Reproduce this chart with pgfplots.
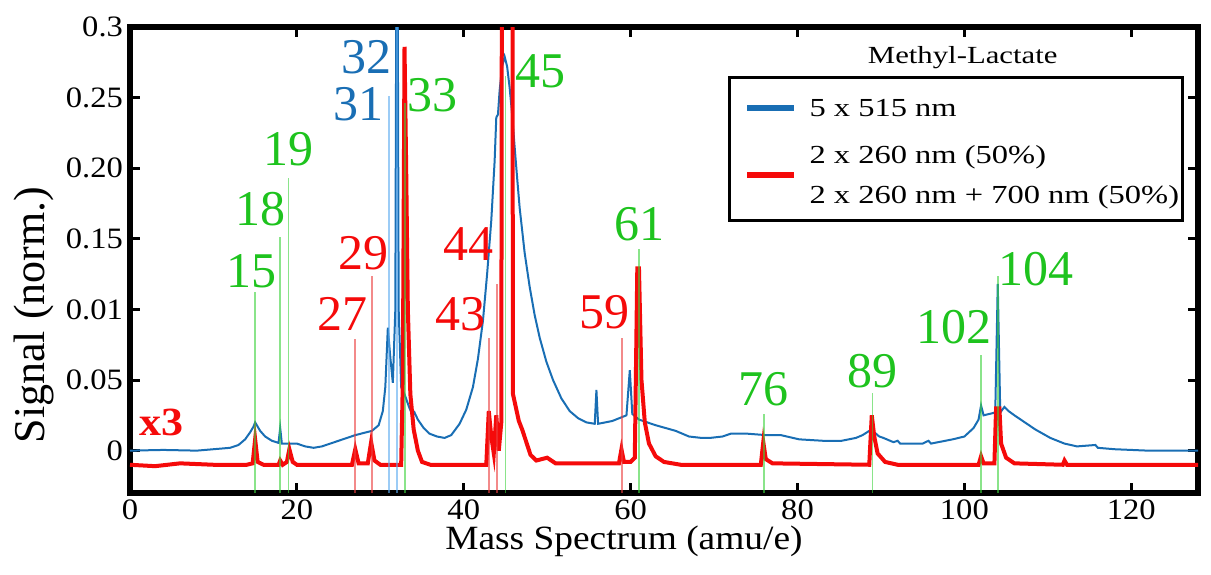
\documentclass[border=0pt]{standalone}
\usepackage{pgfplots}
\pgfplotsset{compat=1.18}
\usepackage{fontspec}
\setmainfont{Liberation Serif}[FakeStretch=1.1]
\newfontfamily\plainfont{Liberation Serif}
\newfontfamily\legfont{Liberation Serif}[FakeStretch=1.25]
\definecolor{cblue}{RGB}{25,110,180}
\definecolor{cred}{RGB}{245,10,10}
\definecolor{cgreen}{RGB}{30,195,30}
\definecolor{lgreen}{RGB}{60,210,60}
\definecolor{lred}{RGB}{235,60,60}
\definecolor{lblue}{RGB}{90,170,240}
\begin{document}
\begin{tikzpicture}
\path[use as bounding box] (-65pt,-40.5pt) rectangle (540.5pt,246.5pt);
\begin{axis}[
 at={(0,0)}, anchor=south west,
 scale only axis, width=534pt, height=233pt,
 xmin=0, xmax=128, ymin=-0.03, ymax=0.3,
 xtick={0,20,...,120},
 ytick={0,0.05,0.1,0.15,0.2,0.25,0.3},
 yticklabels={0,0.05,0.01,0.15,0.20,0.25,0.3},
 tick align=inside,
 major tick length=5pt,
 every tick/.style={black, line width=1.5pt},
 axis line style={line width=2.7pt},
 tick label style={font=\fontsize{14.8}{16}\selectfont},
 /pgf/number format/assume math mode=true,
 xlabel={Mass Spectrum (amu/e)},
 ylabel={Signal (norm.)},
 xlabel style={at={(axis description cs:0.4625,-0.1223)}, anchor=base, font=\fontsize{17}{20}\selectfont},
 ylabel style={at={(axis description cs:-0.0796,0.382)}, anchor=base, font=\plainfont\fontsize{22}{24}\selectfont},
]
% blue: 5 x 515 nm
\addplot[cblue, line width=1pt] coordinates {
(0,0.000) (4,0.0005) (8,0.000) (10,0.001) (12,0.002) (13,0.004) (13.8,0.008) (14.4,0.013) (14.8,0.017) (15,0.020) (15.2,0.018) (15.6,0.014) (16.2,0.010) (17,0.007) (17.8,0.0055) (18,0.016) (18.2,0.005) (19,0.005) (20,0.005) (21,0.003) (22,0.002) (23,0.003) (25,0.007) (27,0.011) (29,0.014) (29.8,0.018) (30.3,0.028) (30.6,0.045) (30.9,0.087) (31.2,0.066) (31.5,0.048) (31.8,0.100) (32.0,0.500) (32.2,0.100) (32.5,0.045) (32.9,0.040) (33.5,0.030) (33.9,0.025) (34.1,0.027) (34.5,0.022) (35.2,0.016) (35.9,0.012) (36.8,0.010) (37.7,0.009) (38.5,0.011) (39.5,0.019) (40.3,0.029) (41.1,0.045) (41.7,0.065) (42.3,0.092) (42.8,0.125) (43.3,0.163) (43.7,0.205) (43.9,0.236) (44.1,0.238) (44.3,0.255) (44.6,0.272) (44.9,0.279) (45.2,0.272) (45.5,0.257) (45.8,0.238) (46.1,0.215) (46.4,0.193) (46.7,0.172) (47.3,0.140) (47.9,0.116) (48.5,0.096) (49.1,0.080) (49.9,0.063) (50.7,0.050) (51.7,0.037) (52.7,0.028) (53.7,0.023) (54.7,0.020) (55.7,0.019) (55.9,0.043) (56.1,0.019) (57.8,0.021) (59.5,0.025) (59.9,0.057) (60.2,0.026) (61,0.022) (62,0.020) (63,0.018) (64.2,0.016) (65.4,0.014) (67,0.010) (68.5,0.009) (69.5,0.009) (71,0.010) (72,0.012) (74,0.012) (76.2,0.011) (78,0.011) (80.2,0.008) (83,0.007) (85.3,0.007) (87,0.009) (87.8,0.011) (88.6,0.014) (89.2,0.013) (89.8,0.010) (90.3,0.009) (91.5,0.006) (92,0.007) (92.3,0.005) (95,0.005) (95.7,0.007) (96,0.005) (98.6,0.008) (100,0.010) (101.1,0.016) (101.7,0.022) (102,0.032) (102.3,0.025) (103,0.026) (103.7,0.027) (104,0.118) (104.3,0.027) (104.8,0.031) (105.3,0.028) (106,0.025) (107,0.021) (108.5,0.015) (110.3,0.009) (112,0.005) (113.5,0.003) (115.7,0.004) (116,0.002) (118,0.001) (122,0.000) (128,0.000)
};
% red: 2 x 260 nm (x3)
\addplot[cred, line width=2pt] coordinates {
(0,-0.010) (3,-0.011) (6,-0.009) (10,-0.010) (14,-0.010) (14.7,-0.009) (15,0.008) (15.3,-0.008) (16,-0.010) (17.8,-0.010) (18,-0.007) (18.3,-0.010) (18.8,-0.008) (19.1,0.001) (19.5,-0.008) (20,-0.010) (26.6,-0.010) (27,0.001) (27.4,-0.009) (28.5,-0.009) (28.9,0.006) (29.3,-0.007) (30,-0.010) (32.5,-0.010) (32.7,0.050) (32.9,0.286) (33.1,0.200) (33.3,0.100) (33.6,0.040) (34,0.015) (34.5,0.000) (35,-0.008) (36,-0.010) (42.7,-0.010) (43,0.028) (43.3,0.010) (43.6,-0.002) (43.9,0.025) (44.2,0.000) (44.5,0.020) (44.6,0.500) (45.8,0.500) (45.9,0.040) (46.6,0.021) (47,0.015) (48,-0.003) (48.7,-0.007) (50,-0.005) (51,-0.009) (58.6,-0.009) (58.9,0.001) (59.2,-0.008) (60,-0.008) (60.5,-0.005) (60.8,0.129) (61.0,0.129) (61.3,0.050) (61.7,0.020) (62.2,0.005) (63,-0.004) (64,-0.008) (66,-0.010) (75.6,-0.010) (75.9,0.006) (76.2,-0.006) (77,-0.009) (88.6,-0.010) (88.9,0.025) (89.2,0.010) (89.6,-0.002) (90.5,-0.008) (92,-0.010) (101.7,-0.010) (102,-0.004) (102.3,-0.009) (103.6,-0.009) (103.8,0.030) (104.2,0.030) (104.4,0.005) (105,-0.005) (106,-0.009) (111.8,-0.010) (112,-0.007) (112.3,-0.010) (128,-0.010)
};
% marker lines
\addplot[lgreen, line width=0.9pt, opacity=0.6] coordinates {(15,-0.03) (15,0.112)};
\addplot[lgreen, line width=0.9pt, opacity=0.6] coordinates {(18,-0.03) (18,0.151)};
\addplot[lgreen, line width=0.9pt, opacity=0.6] coordinates {(19,-0.03) (19,0.193)};
\addplot[lgreen, line width=0.9pt, opacity=0.6] coordinates {(33,-0.03) (33,0.246)};
\addplot[lgreen, line width=0.9pt, opacity=0.6] coordinates {(45,-0.03) (45,0.265)};
\addplot[lgreen, line width=0.9pt, opacity=0.6] coordinates {(61,-0.03) (61,0.143)};
\addplot[lgreen, line width=0.9pt, opacity=0.6] coordinates {(76,-0.03) (76,0.026)};
\addplot[lgreen, line width=0.9pt, opacity=0.6] coordinates {(89,-0.03) (89,0.041)};
\addplot[lgreen, line width=0.9pt, opacity=0.6] coordinates {(102,-0.03) (102,0.068)};
\addplot[lgreen, line width=0.9pt, opacity=0.6] coordinates {(104,-0.03) (104,0.124)};
\addplot[lred, line width=0.9pt, opacity=0.6] coordinates {(27,-0.03) (27,0.079)};
\addplot[lred, line width=0.9pt, opacity=0.6] coordinates {(29,-0.03) (29,0.124)};
\addplot[lred, line width=0.9pt, opacity=0.6] coordinates {(43,-0.03) (43,0.080)};
\addplot[lred, line width=0.9pt, opacity=0.6] coordinates {(44,-0.03) (44,0.118)};
\addplot[lred, line width=0.9pt, opacity=0.6] coordinates {(59,-0.03) (59,0.080)};
\addplot[lblue, line width=0.9pt, opacity=0.6] coordinates {(31,-0.03) (31,0.251)};
\addplot[lblue, line width=0.9pt, opacity=0.6] coordinates {(32,-0.03) (32,0.300)};
% labels
\begin{scope}[every node/.style={anchor=base, font=\plainfont\fontsize{25}{25}\selectfont, inner sep=0pt}]
\node[text=cgreen] at (axis cs:14.6,0.1156) {15};
\node[text=cgreen] at (axis cs:15.7,0.1596) {18};
\node[text=cgreen] at (axis cs:19.0,0.202) {19};
\node[text=cred] at (axis cs:25.5,0.085) {27};
\node[text=cred] at (axis cs:28.0,0.128) {29};
\node[text=cblue] at (axis cs:27.4,0.234) {31};
\node[text=cblue] at (axis cs:28.3,0.267) {32};
\node[text=cgreen] at (axis cs:36.2,0.240) {33};
\node[text=cred] at (axis cs:39.6,0.085) {43};
\node[text=cred] at (axis cs:40.6,0.135) {44};
\node[text=cgreen] at (axis cs:49.2,0.257) {45};
\node[text=cred] at (axis cs:56.9,0.0865) {59};
\node[text=cgreen] at (axis cs:61.1,0.149) {61};
\node[text=cgreen] at (axis cs:75.9,0.032) {76};
\node[text=cgreen] at (axis cs:89.0,0.0447) {89};
\node[text=cgreen] at (axis cs:98.7,0.076) {102};
\node[text=cgreen] at (axis cs:108.6,0.117) {104};
\end{scope}
\node[anchor=base west, text=cred, font=\bfseries\fontsize{20}{20}\selectfont, inner sep=0pt] at (axis cs:1.1,0.0106) {x3};
% legend
\node[anchor=center, font=\legfont\fontsize{12.3}{12}\selectfont, inner sep=0pt] at (axis cs:99.8,0.278) {Methyl-Lactate};
\draw[line width=1.5pt, fill=white] (axis cs:71.86,0.2645) rectangle (axis cs:126.1,0.1631);
\draw[cblue, line width=3pt] (axis cs:74.0,0.2426) -- (axis cs:79.6,0.2426);
\draw[cred, line width=3pt] (axis cs:74.0,0.1950) -- (axis cs:79.6,0.1950);
\begin{scope}[every node/.style={anchor=base west, font=\legfont\fontsize{13}{14}\selectfont, inner sep=0pt}]
\node at (axis cs:81.4,0.2365) {5 x 515 nm};
\node at (axis cs:81.4,0.2032) {2 x 260 nm (50\%)};
\node at (axis cs:81.4,0.1748) {2 x 260 nm + 700 nm (50\%)};
\end{scope}
\end{axis}
\end{tikzpicture}
\end{document}
